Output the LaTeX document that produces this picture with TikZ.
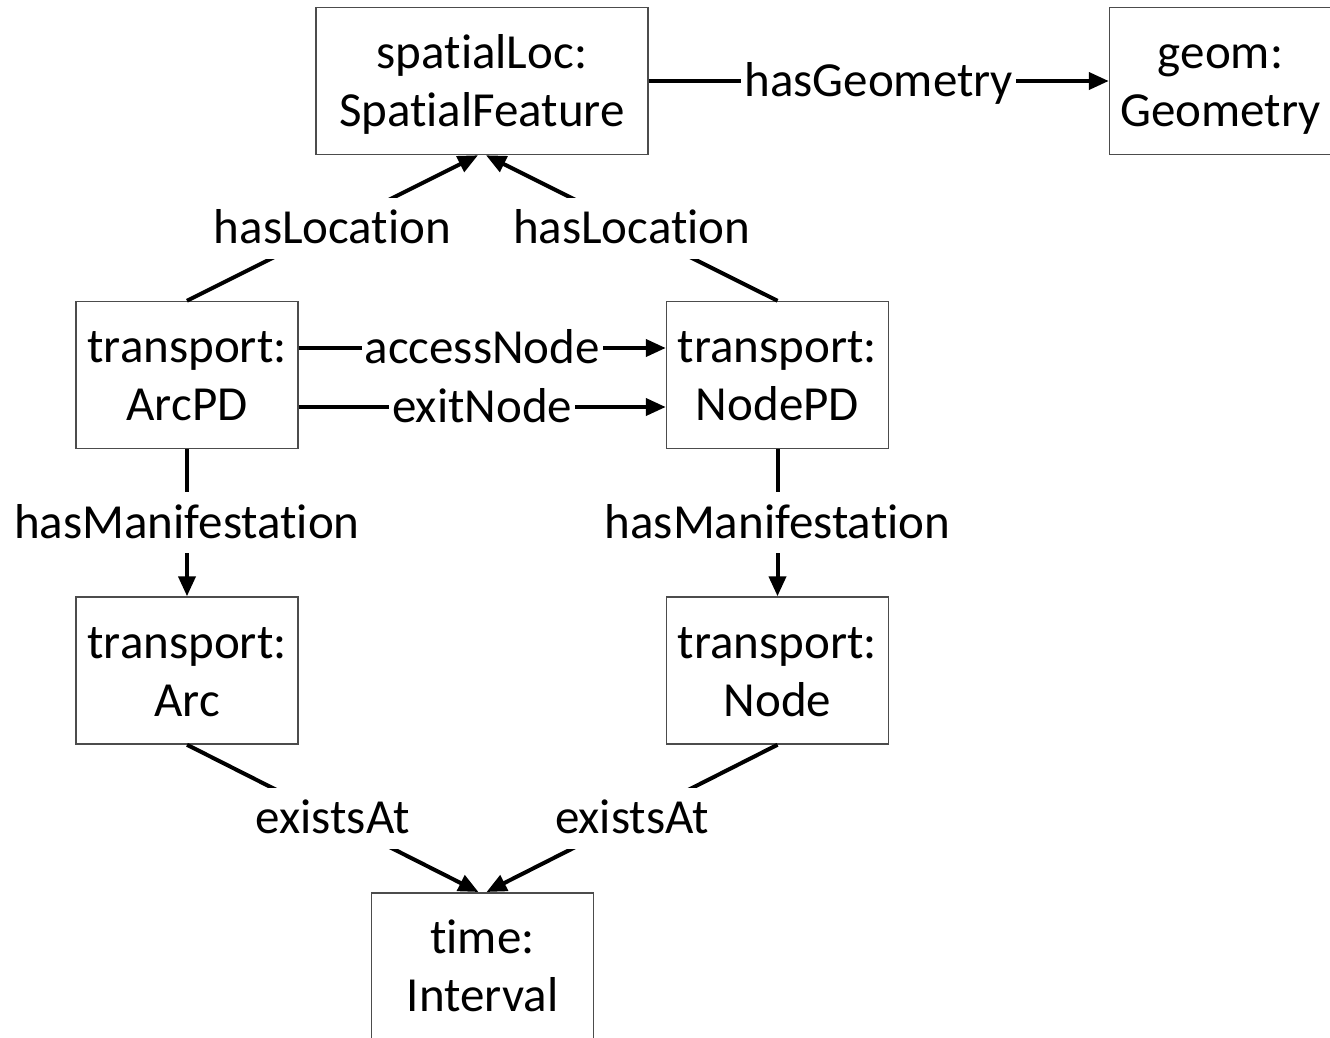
\documentclass[tikz,border=0pt]{standalone}
\usepackage{fontspec}
\setmainfont{Carlito}[RawFeature={-liga;-clig;-dlig}]
\usetikzlibrary{arrows.meta}
\definecolor{boxline}{gray}{0.3}
% struts that fix the baselines of the two text lines inside a class box
\newcommand\topstrut{\rule{0pt}{40.6pt}}
\newcommand\botstrut{\rule[-7.4pt]{0pt}{10pt}}
\newcommand\classtext[2]{\topstrut #1\\\botstrut #2}
\tikzset{
  box/.style={draw=boxline, line width=1.5pt, fill=white, align=center,
    inner sep=0pt, minimum width=222pt, minimum height=147pt,
    font=\fontsize{49}{58}\selectfont},
  lbl/.style={fill=white, inner xsep=3pt, inner ysep=3pt,
    text height=43pt, text depth=12pt, font=\fontsize{49}{58}\selectfont},
  arr/.style={line width=4pt, -{Triangle[length=20pt,width=17pt]}}
}
\begin{document}
\begin{tikzpicture}[x=1pt,y=-1pt]
\useasboundingbox (0,0) rectangle (1330,1037);
\clip (0,0) rectangle (1330,1037);
\fill[white] (0,0) rectangle (1330,1037);

% classes
\node[box, minimum width=332pt] (sf) at (482,81) {\classtext{spatialLoc:}{SpatialFeature}};
\node[box] (geom) at (1220.5,81) {\classtext{geom:}{Geometry}};
\node[box] (arcpd) at (187,375) {\classtext{transport:}{ArcPD}};
\node[box] (nodepd) at (777.5,375) {\classtext{transport:}{NodePD}};
\node[box] (arc) at (187,670.5) {\classtext{transport:}{Arc}};
\node[box] (node) at (777.5,670.5) {\classtext{transport:}{Node}};
\node[box, anchor=north] (interval) at (482.5,892) {\classtext{time:}{Interval}};

% properties
\draw[arr] (sf.east) -- node[lbl]{hasGeometry} (geom.west);
\draw[arr] (arcpd.north) -- node[lbl]{hasLocation} ([xshift=-4pt]sf.south);
\draw[arr] (nodepd.north) -- node[lbl]{hasLocation} ([xshift=4pt]sf.south);
\draw[arr] ([yshift=27pt]arcpd.east) -- node[lbl]{accessNode} ([yshift=27pt]nodepd.west);
\draw[arr] ([yshift=-32pt]arcpd.east) -- node[lbl]{exitNode} ([yshift=-32pt]nodepd.west);
\draw[arr] (arcpd.south) -- node[lbl]{hasManifestation} (arc.north);
\draw[arr] (nodepd.south) -- node[lbl]{hasManifestation} (node.north);
\draw[arr] (arc.south) -- node[lbl]{existsAt} ([xshift=-4pt]interval.north);
\draw[arr] (node.south) -- node[lbl]{existsAt} ([xshift=4pt]interval.north);
\end{tikzpicture}
\end{document}
